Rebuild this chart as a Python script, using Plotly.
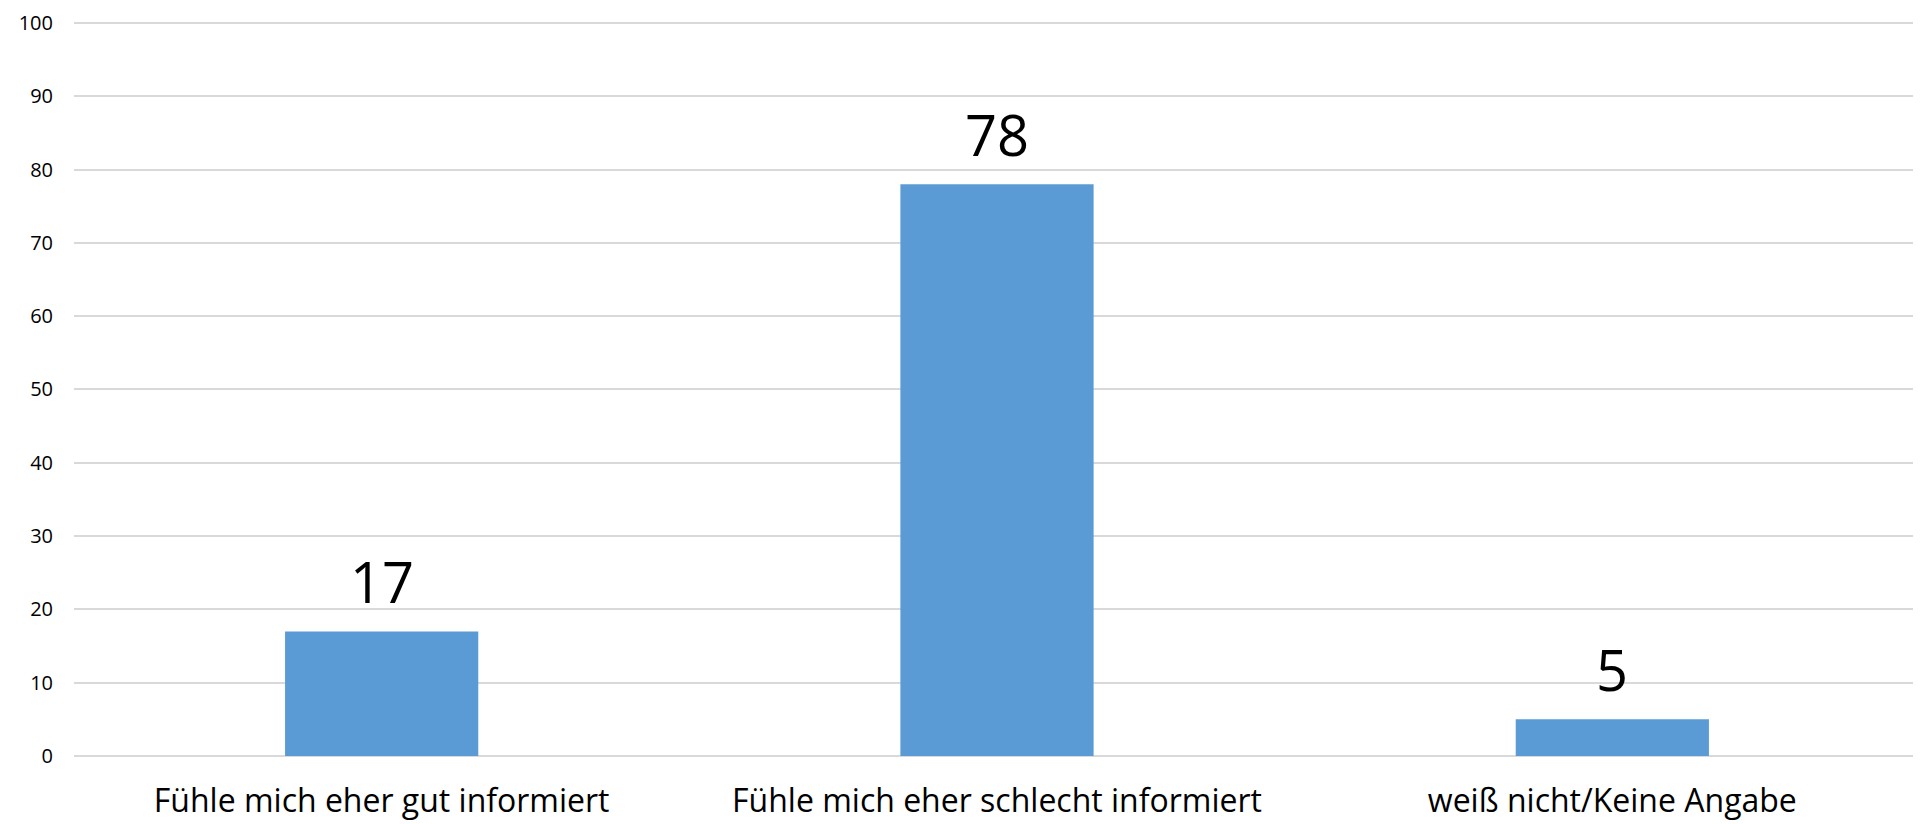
import plotly.graph_objects as go

categories = ["Fühle mich eher gut informiert", "Fühle mich eher schlecht informiert", "weiß nicht/Keine Angabe"]
values = [17, 78, 5]
y_ticks = [0, 10, 20, 30, 40, 50, 60, 70, 80, 90, 100]

FONT = "Open Sans"

fig = go.Figure()
fig.add_trace(go.Bar(x=categories, y=values, marker=dict(color="#5b9bd5", line=dict(width=0)),
                     hoverinfo="skip"))

for c, v in zip(categories, values):
    fig.add_annotation(x=c, y=v, text=str(v), showarrow=False, yanchor="bottom",
                       yshift=10, font=dict(family=FONT, size=56, color="#000000"))

fig.update_layout(
    width=1913, height=816,
    margin=dict(l=66, r=1, t=12, b=68),
    paper_bgcolor="white", plot_bgcolor="white",
    bargap=0.686,
    showlegend=False,
    font=dict(family=FONT, color="#000000"),
)
fig.update_xaxes(showgrid=False, showline=False, ticks="", tickfont=dict(size=32, family=FONT),
                 ticklabelstandoff=23, ticklabeloverflow="allow", automargin=False)
fig.update_yaxes(range=[0, 100.4], tickvals=y_ticks, showgrid=True, gridcolor="#d9d9d9", gridwidth=1.5,
                 zeroline=True, zerolinecolor="#d9d9d9", zerolinewidth=1.5, showline=False,
                 ticks="", tickfont=dict(size=20, family=FONT), ticklabelstandoff=20,
                 ticklabeloverflow="allow", automargin=False)

fig.write_html("out.html")
